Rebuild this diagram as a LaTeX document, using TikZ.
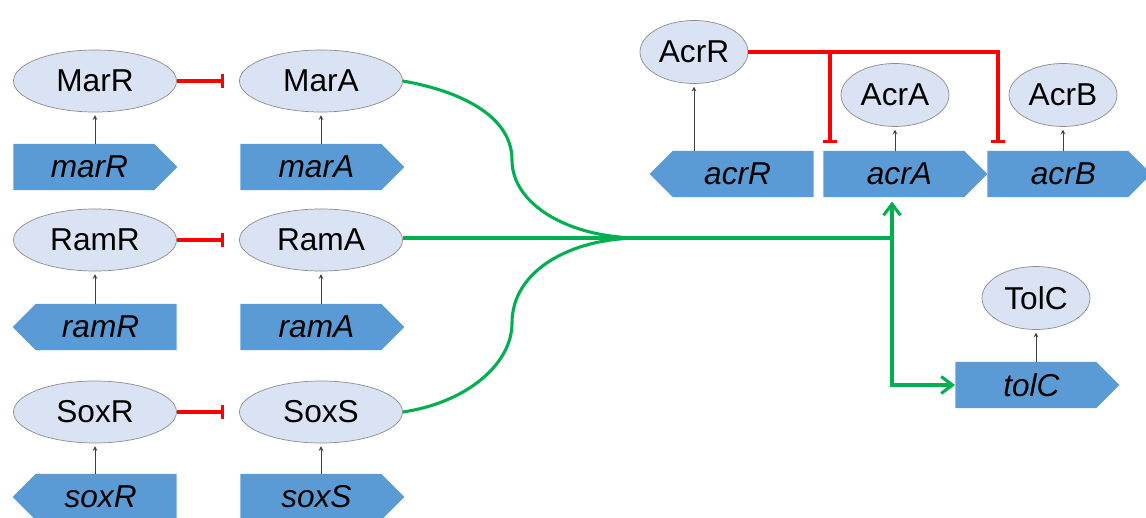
\documentclass[tikz,border=0pt]{standalone}
\usepackage{fontspec}
\setmainfont{Liberation Sans}
\usetikzlibrary{shapes.geometric, shapes.symbols, arrows.meta, calc}

\definecolor{protfill}{HTML}{DAE3F3}
\definecolor{protline}{HTML}{8C8C8C}
\definecolor{genefill}{HTML}{5B9BD5}
\definecolor{repred}{HTML}{FF0000}
\definecolor{actgreen}{HTML}{00B050}

\begin{document}
\begin{tikzpicture}[x=0.025cm, y=-0.025cm, >=stealth,
	prot/.style={ellipse, draw=protline, line width=0.5pt, fill=protfill, minimum width=4.075cm, minimum height=1.55cm, inner sep=0pt, font=\fontsize{22.5}{27}\selectfont},
	sprot/.style={prot, minimum width=2.7cm, minimum height=1.575cm},
	gene/.style={signal, fill=genefill, minimum width=4.1cm, minimum height=1.15cm, inner sep=0pt, font=\fontsize{22.5}{27}\selectfont\itshape},
	fwd/.style={gene, signal to=east, anchor=west, execute at begin node={\hspace*{8pt}}},
	rev/.style={gene, signal to=west, anchor=east, execute at end node={\hspace*{8pt}}},
	prod/.style={->, draw=black!75, line width=0.5pt, shorten >=2pt},
	repress/.style={-{Bar[width=10pt]}, draw=repred, line width=2.2pt},
	act/.style={draw=actgreen, line width=2.2pt},
	actarr/.style={act, -{Straight Barb[length=8pt, width=12pt]}}]
	\useasboundingbox (0,0) rectangle (1146,518);

	% left regulators
	\node[prot] (MarR) at (95,81)                                 {MarR};
	\node[prot] (MarA) at (321,81)                                {MarA};
	\node[prot] (RamR) at (95,240)                                {RamR};
	\node[prot] (RamA) at (321,240)                               {RamA};
	\node[prot] (SoxR) at (95,412)                                {SoxR};
	\node[prot] (SoxS) at (321,412)                               {SoxS};

	\node[fwd] (marR) at (13,167)                                 {marR};
	\node[fwd] (marA) at (240,167)                                {marA};
	\node[rev] (ramR) at (177,327)                                {ramR};
	\node[fwd] (ramA) at (240,327)                                {ramA};
	\node[rev] (soxR) at (177,497)                                {soxR};
	\node[fwd] (soxS) at (240,497)                                {soxS};

	% acr operon and tolC
	\node[sprot] (AcrR) at (694,52)                               {AcrR};
	\node[sprot] (AcrA) at (895,95)                               {AcrA};
	\node[sprot] (AcrB) at (1063,95)                              {AcrB};
	\node[sprot] (TolC) at (1036,298)                             {TolC};

	\node[rev] (acrR) at (814,174)                                {acrR};
	\node[fwd] (acrA) at (823,174)                                {acrA};
	\node[fwd] (acrB) at (987,174)                                {acrB};
	\node[fwd] (tolC) at (955,385)                                {tolC};

	\coordinate (join) at (640,238);
	\coordinate (fork) at (892,238);
	\coordinate (bendM) at (512,160);
	\coordinate (bendS) at (512,323);
	\coordinate (barA) at (830,143);
	\coordinate (barB) at (998,143);

	% translation
	\foreach \g/\p in {marR/MarR, marA/MarA, ramR/RamR, ramA/RamA, soxR/SoxR, soxS/SoxS, acrR/AcrR, acrA/AcrA, acrB/AcrB, tolC/TolC}
		\draw[prod] (\p.south |- \g.north) -- (\p.south);

	% repression
	\draw[repress, shorten >=11pt] (MarR) -- (MarA);
	\draw[repress, shorten >=11pt] (RamR) -- (RamA);
	\draw[repress, shorten >=11pt] (SoxR) -- (SoxS);
	\draw[repress] (AcrR.east) -| (barB);
	\draw[repress] (AcrR.east -| barA) -- (barA);

	% activation
	\draw[act] (MarA.east) .. controls (465,92) and (512,118) .. (bendM)
		.. controls (512,205) and (570,238) .. (join);
	\draw[act] (SoxS.east) .. controls (465,403) and (512,365) .. (bendS)
		.. controls (512,271) and (570,238) .. (join);
	\draw[act] (RamA.east |- join) -- (fork);
	\draw[actarr, shorten >=3pt] (fork) -- (fork |- acrA.south);
	\draw[actarr] (fork) |- (tolC.west);
\end{tikzpicture}
\end{document}
